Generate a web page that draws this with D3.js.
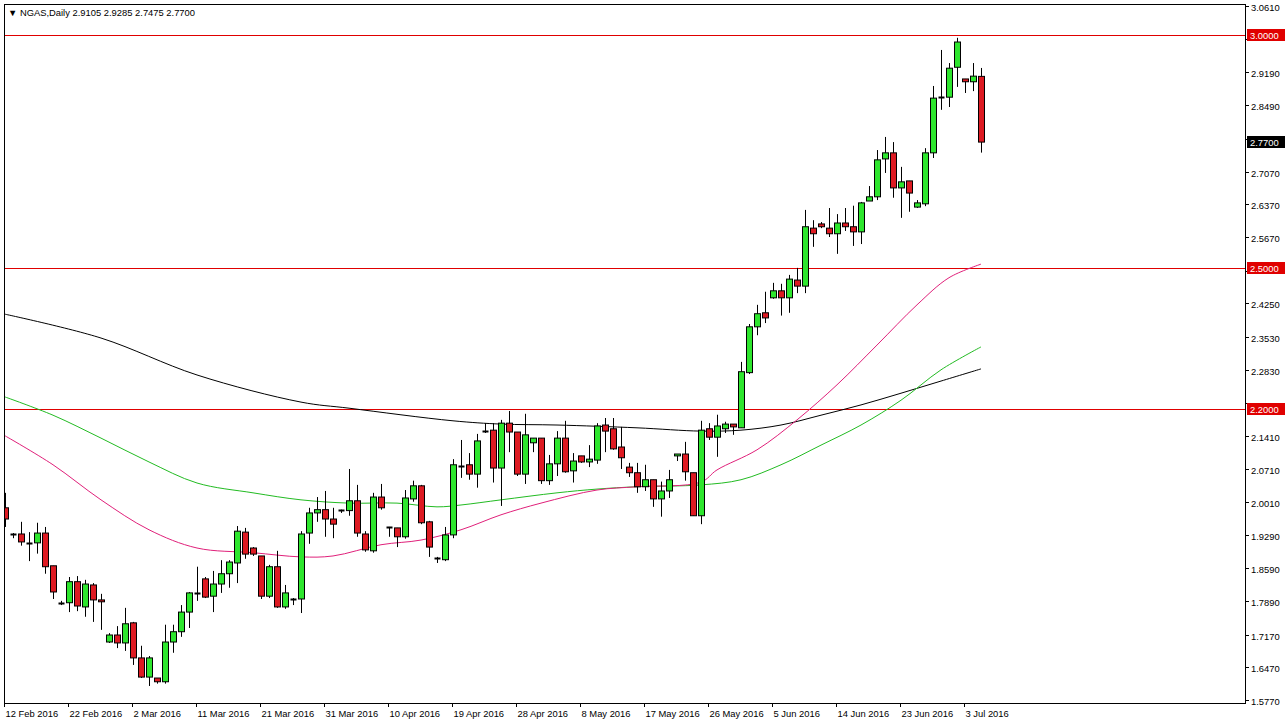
<!DOCTYPE html>
<html><head><meta charset="utf-8">
<script src="https://cdn.jsdelivr.net/npm/d3@7"></script>
<style>body{margin:0;background:#fff}svg{display:block}text{font-family:"Liberation Sans",Arial,sans-serif;font-size:9.4px}</style>
</head><body><svg id="c" width="1286" height="725"></svg>
<script>
const opens=[1.988,1.932,1.932,1.913,1.913,1.934,1.864,1.785,1.785,1.830,1.776,1.823,1.791,1.701,1.716,1.699,1.742,1.667,1.626,1.624,1.616,1.701,1.723,1.765,1.804,1.836,1.799,1.825,1.847,1.870,1.936,1.902,1.885,1.799,1.862,1.776,1.793,1.793,1.934,1.977,1.984,1.964,1.982,1.982,2.003,1.932,1.896,2.011,1.946,1.945,1.926,2.007,2.035,1.958,1.881,1.877,1.930,2.078,2.080,2.060,2.152,2.154,2.073,2.169,2.150,2.060,2.127,2.137,2.046,2.082,2.137,2.067,2.099,2.086,2.090,2.165,2.157,2.118,2.075,2.063,2.033,2.048,2.007,2.024,2.099,2.103,2.063,1.971,2.157,2.139,2.157,2.167,2.159,2.277,2.375,2.405,2.437,2.452,2.437,2.475,2.462,2.586,2.595,2.586,2.574,2.597,2.589,2.578,2.644,2.653,2.734,2.747,2.672,2.687,2.631,2.638,2.747,2.864,2.866,2.930,2.905,2.899,2.9105];
const highs=[2.020,1.934,1.958,1.936,1.956,1.947,1.864,1.789,1.840,1.842,1.834,1.827,1.804,1.720,1.735,1.774,1.744,1.693,1.671,1.624,1.738,1.738,1.780,1.808,1.862,1.840,1.853,1.876,1.876,1.949,1.945,1.904,1.885,1.866,1.896,1.823,1.795,1.938,1.988,2.011,2.024,1.988,1.984,2.071,2.037,1.938,2.020,2.039,1.947,1.945,2.026,2.046,2.037,1.960,1.883,1.947,2.092,2.133,2.105,2.146,2.169,2.169,2.176,2.195,2.150,2.189,2.137,2.137,2.101,2.152,2.174,2.105,2.099,2.122,2.169,2.180,2.180,2.161,2.084,2.084,2.080,2.048,2.044,2.069,2.103,2.129,2.063,2.174,2.169,2.187,2.172,2.167,2.300,2.381,2.422,2.450,2.469,2.467,2.486,2.501,2.625,2.603,2.599,2.629,2.616,2.629,2.634,2.642,2.676,2.753,2.781,2.770,2.717,2.687,2.646,2.757,2.890,2.967,2.939,2.993,2.905,2.939,2.9285];
const lows=[1.947,1.923,1.907,1.874,1.890,1.847,1.793,1.780,1.765,1.767,1.755,1.744,1.727,1.699,1.688,1.682,1.652,1.624,1.607,1.612,1.612,1.678,1.712,1.731,1.789,1.795,1.765,1.806,1.817,1.827,1.879,1.885,1.793,1.795,1.774,1.772,1.780,1.763,1.911,1.958,1.926,1.923,1.977,1.971,1.926,1.894,1.892,1.984,1.926,1.904,1.922,2.001,1.953,1.883,1.870,1.874,1.923,2.052,2.048,2.031,2.148,2.042,1.992,2.107,2.056,2.039,2.107,2.039,2.037,2.056,2.063,2.042,2.084,2.075,2.082,2.107,2.112,2.071,2.054,2.020,2.024,1.990,1.969,2.009,2.088,2.046,1.971,1.953,2.133,2.097,2.148,2.144,2.159,2.274,2.357,2.383,2.435,2.399,2.405,2.447,2.447,2.546,2.586,2.567,2.531,2.580,2.548,2.552,2.644,2.646,2.704,2.651,2.608,2.621,2.629,2.633,2.736,2.839,2.845,2.888,2.875,2.879,2.7475];
const closes=[1.964,1.933,1.915,1.912,1.934,1.862,1.808,1.785,1.830,1.778,1.825,1.791,1.787,1.716,1.699,1.740,1.667,1.626,1.667,1.616,1.701,1.723,1.765,1.806,1.806,1.797,1.825,1.847,1.872,1.938,1.889,1.889,1.799,1.862,1.776,1.806,1.794,1.932,1.977,1.984,1.964,1.953,1.983,2.003,1.934,1.898,2.011,1.988,1.945,1.926,2.009,2.035,1.956,1.904,1.880,1.930,2.080,2.077,2.060,2.131,2.151,2.073,2.169,2.150,2.060,2.144,2.137,2.046,2.082,2.137,2.065,2.088,2.086,2.092,2.163,2.152,2.114,2.095,2.063,2.033,2.048,2.007,2.024,2.048,2.103,2.065,1.971,2.154,2.139,2.163,2.167,2.161,2.279,2.375,2.403,2.394,2.452,2.437,2.477,2.462,2.589,2.574,2.589,2.574,2.597,2.589,2.578,2.640,2.653,2.732,2.747,2.672,2.685,2.661,2.640,2.747,2.864,2.866,2.928,2.984,2.899,2.911,2.7700];
const dateLabels=["12 Feb 2016","22 Feb 2016","2 Mar 2016","11 Mar 2016","21 Mar 2016","31 Mar 2016","10 Apr 2016","19 Apr 2016","28 Apr 2016","8 May 2016","17 May 2016","26 May 2016","5 Jun 2016","14 Jun 2016","23 Jun 2016","3 Jul 2016"];
const priceTicks=[3.0610,2.9910,2.9190,2.8490,2.7770,2.7070,2.6370,2.5670,2.4950,2.4250,2.3530,2.2830,2.2130,2.1410,2.0710,2.0010,1.9290,1.8590,1.7890,1.7170,1.6470,1.5770];
const levels=[3.0,2.5,2.2];
const maBlackIdx=[0,12,24,37,43,56,62,69,79,87,92,97,102,107,112,117,122];
const maBlack=[2.402,2.351,2.272,2.214,2.201,2.174,2.167,2.165,2.159,2.152,2.154,2.165,2.186,2.208,2.233,2.259,2.285];
const maGreenIdx=[0,6,12,18,24,31,37,43,49,54,57,62,69,74,79,87,92,97,102,107,112,117,122];
const maGreen=[2.225,2.186,2.137,2.086,2.041,2.020,2.005,1.998,1.998,1.990,1.994,2.005,2.020,2.028,2.033,2.037,2.048,2.080,2.122,2.165,2.218,2.283,2.332];
const maPinkIdx=[0,6,12,18,24,31,37,41,47,52,57,62,67,74,79,87,89,94,99,104,109,114,118,122];
const maPink=[2.142,2.080,2.005,1.941,1.902,1.892,1.883,1.885,1.909,1.919,1.941,1.973,1.998,2.026,2.033,2.043,2.069,2.112,2.176,2.251,2.336,2.422,2.480,2.509];

const svg=d3.select("#c");
const L=4,R=1245,T=4,B=703;
const x=d3.scaleLinear().domain([0,122]).range([5,981]);
const y=d3.scaleLinear().domain([1.577,3.061]).range([700,6]);
svg.append("rect").attr("x",L+0.5).attr("y",T+0.5).attr("width",R-L).attr("height",B-T).attr("fill","none").attr("stroke","#000");
svg.append("defs").append("clipPath").attr("id","cl").append("rect").attr("x",L+1).attr("y",T+1).attr("width",R-L-1).attr("height",B-T-1);
const g=svg.append("g").attr("clip-path","url(#cl)");
levels.forEach(v=>g.append("line").attr("x1",L).attr("x2",R).attr("y1",Math.round(y(v))+0.5).attr("y2",Math.round(y(v))+0.5).attr("stroke","#e00000"));
function ma(idx,vals,col){const ln=d3.line().x((d,i)=>x(idx[i])).y(d=>y(d)).curve(d3.curveCatmullRom.alpha(0.5));
 g.append("path").attr("d",ln(vals)).attr("fill","none").attr("stroke",col).attr("stroke-width",1);}
ma(maBlackIdx,maBlack,"#000");ma(maGreenIdx,maGreen,"#22bb22");ma(maPinkIdx,maPink,"#e0207a");
const n=opens.length;
for(let i=0;i<n;i++){
 const cx=Math.round(x(i))+0.5, o=opens[i],c=closes[i];
 g.append("line").attr("x1",cx).attr("x2",cx).attr("y1",y(highs[i])).attr("y2",y(lows[i])).attr("stroke","#000");
 const up=c>=o, top=y(Math.max(o,c)), bot=y(Math.min(o,c));
 if(Math.abs(bot-top)<1.5){g.append("line").attr("x1",cx-3).attr("x2",cx+3).attr("y1",Math.round(top)+0.5).attr("y2",Math.round(top)+0.5).attr("stroke","#000").attr("stroke-width",2);}
 else g.append("rect").attr("x",cx-3).attr("y",top).attr("width",6).attr("height",bot-top).attr("fill",up?"#2ee62e":"#dd1a22").attr("stroke","#000");
}
const ax=svg.append("g");
const boxed=levels.concat([closes[n-1]]);
priceTicks.forEach(v=>{const yy=Math.round(y(v))+0.5;
 ax.append("line").attr("x1",R).attr("x2",R+4).attr("y1",yy).attr("y2",yy).attr("stroke","#000");
 if(boxed.some(b=>Math.abs(y(b)-y(v))<12)) return;
 ax.append("text").attr("x",R+6).attr("y",yy+4).text(v.toFixed(4));});
function box(v,bg,fg){const yy=Math.round(y(v));
 ax.append("rect").attr("x",R+2).attr("y",yy-6).attr("width",38).attr("height",12).attr("fill",bg);
 ax.append("text").attr("x",R+5).attr("y",yy+4).attr("fill",fg).text(v.toFixed(4));}
levels.forEach(v=>box(v,"#e00000","#fff"));
box(closes[n-1],"#000","#fff");
dateLabels.forEach((t,k)=>{const xx=Math.round(x(8*k))-1+0.5;
 ax.append("line").attr("x1",xx).attr("x2",xx).attr("y1",B).attr("y2",B+4).attr("stroke","#000");
 ax.append("text").attr("x",xx+1).attr("y",B+14).text(t);});
svg.append("text").attr("x",8).attr("y",16).text("\u25BC NGAS,Daily  2.9105 2.9285 2.7475 2.7700");
</script></body></html>
